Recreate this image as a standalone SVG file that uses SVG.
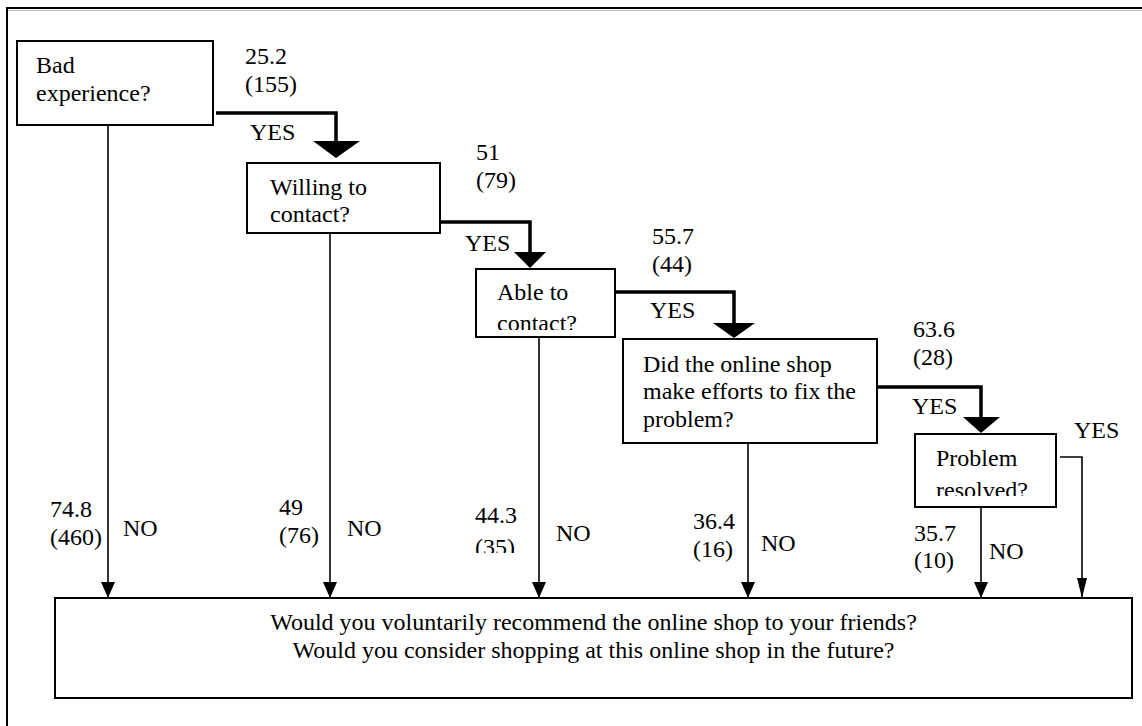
<svg xmlns="http://www.w3.org/2000/svg" width="1142" height="726" viewBox="0 0 1142 726">
<style>
.t{font-family:"Liberation Serif","Times New Roman",serif;font-size:24px;fill:#000}
.box{fill:#fff;stroke:#000;stroke-width:2}
.thick{fill:none;stroke:#000;stroke-width:3.5}
.thin{fill:none;stroke:#000;stroke-width:1.6}
.head{fill:#000;stroke:none}
</style>
<defs>
<marker id="ah" viewBox="0 0 16 14" refX="16" refY="7" markerWidth="16" markerHeight="14" orient="auto" markerUnits="userSpaceOnUse"><path d="M0,0 L16,7 L0,14 z" fill="#000"/></marker>
<marker id="ahn" viewBox="0 0 20 10" refX="20" refY="5" markerWidth="20" markerHeight="10" orient="auto" markerUnits="userSpaceOnUse"><path d="M0,0 L20,5 L0,10 z" fill="#000"/></marker>
<clipPath id="cAble"><rect x="476" y="269" width="139" height="61"/></clipPath>
<clipPath id="cProb"><rect x="915" y="434" width="141" height="62"/></clipPath>
<clipPath id="c35"><rect x="460" y="500" width="70" height="53"/></clipPath>
</defs>
<rect width="1142" height="726" fill="#fff"/>
<g id="frame">
<rect x="7" y="8" width="1300" height="900" fill="none" stroke="#000" stroke-width="2"/>
<line x1="8" y1="10.5" x2="1142" y2="10.5" stroke="#bbb" stroke-width="1"/>
</g>
<g id="connectors">
<path class="thick" d="M216,113 H336 V142"/>
<polygon class="head" points="313,141 360,141 336,158"/>
<path class="thick" d="M441,222 H530 V253"/>
<polygon class="head" points="514,252 546,252 530,268"/>
<path class="thick" d="M616,292 H734 V324"/>
<polygon class="head" points="713,323 755,323 734,338"/>
<path class="thick" d="M878,387 H981 V418"/>
<polygon class="head" points="963,417 1000,417 981,433"/>
<path class="thin" d="M108,125 V598" marker-end="url(#ah)"/>
<path class="thin" d="M330,233 V598" marker-end="url(#ah)"/>
<path class="thin" d="M539,337 V598" marker-end="url(#ah)"/>
<path class="thin" d="M748,443 V598" marker-end="url(#ah)"/>
<path class="thin" d="M981,507 V598" marker-end="url(#ah)"/>
<path class="thin" d="M1060,457 H1082 V598" marker-end="url(#ahn)"/>
</g>
<g id="labels">
<text class="t" x="245" y="64">25.2</text>
<text class="t" x="245" y="92">(155)</text>
<text class="t" x="250" y="140">YES</text>
<text class="t" x="476" y="160">51</text>
<text class="t" x="476" y="188">(79)</text>
<text class="t" x="465" y="251">YES</text>
<text class="t" x="652" y="244">55.7</text>
<text class="t" x="652" y="272">(44)</text>
<text class="t" x="650" y="318">YES</text>
<text class="t" x="913" y="337">63.6</text>
<text class="t" x="913" y="365">(28)</text>
<text class="t" x="912" y="414">YES</text>
<text class="t" x="1074" y="438">YES</text>
<text class="t" x="50" y="517">74.8</text>
<text class="t" x="50" y="545">(460)</text>
<text class="t" x="123" y="536">NO</text>
<text class="t" x="279" y="515">49</text>
<text class="t" x="279" y="543">(76)</text>
<text class="t" x="347" y="536">NO</text>
<text class="t" x="475" y="523">44.3</text>
<text class="t" x="475" y="555" clip-path="url(#c35)">(35)</text>
<text class="t" x="556" y="541">NO</text>
<text class="t" x="693" y="529">36.4</text>
<text class="t" x="693" y="557">(16)</text>
<text class="t" x="761" y="551">NO</text>
<text class="t" x="914" y="541">35.7</text>
<text class="t" x="914" y="568">(10)</text>
<text class="t" x="989" y="559">NO</text>
</g>
<g id="n-bad">
<rect class="box" x="17" y="41" width="196" height="84"/>
<text class="t" x="36" y="73">Bad</text>
<text class="t" x="36" y="101">experience?</text>
</g>
<g id="n-willing">
<rect class="box" x="247" y="163" width="193" height="70"/>
<text class="t" x="270" y="195">Willing to</text>
<text class="t" x="270" y="222">contact?</text>
</g>
<g id="n-able">
<rect class="box" x="476" y="269" width="139" height="68"/>
<text class="t" x="497" y="300">Able to</text>
<text class="t" x="497" y="331" clip-path="url(#cAble)">contact?</text>
</g>
<g id="n-did">
<rect class="box" x="623" y="339" width="254" height="104"/>
<text class="t" x="643" y="372">Did the online shop</text>
<text class="t" x="643" y="399">make efforts to fix the</text>
<text class="t" x="643" y="427">problem?</text>
</g>
<g id="n-problem">
<rect class="box" x="915" y="434" width="141" height="73"/>
<text class="t" x="936" y="466">Problem</text>
<text class="t" x="936" y="498" clip-path="url(#cProb)">resolved?</text>
</g>
<g id="n-outcome">
<rect class="box" x="55" y="598" width="1077" height="100"/>
<text class="t" x="593.5" y="630" text-anchor="middle">Would you voluntarily recommend the online shop to your friends?</text>
<text class="t" x="593.5" y="658" text-anchor="middle">Would you consider shopping at this online shop in the future?</text>
</g>
</svg>
